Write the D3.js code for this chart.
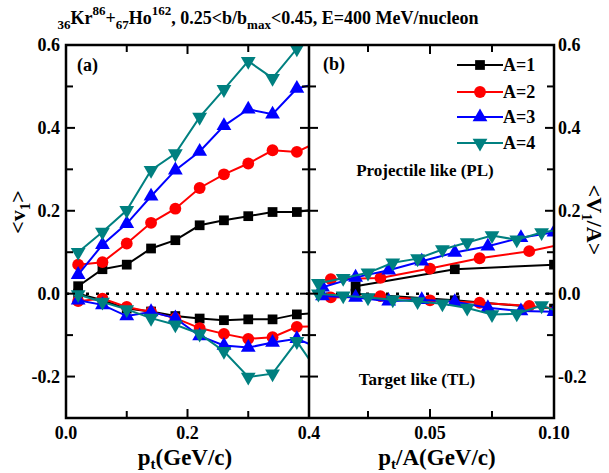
<!DOCTYPE html>
<html lang="en">
  <head>
    <meta charset="UTF-8" />
    <title>v1 vs pt</title>
    <style>
      body { margin: 0; background: #fff; }
      text { font-family: "Liberation Serif", "Times New Roman", serif; font-weight: bold; fill: #000; }
    </style>
  </head>
  <body>
    <svg id="svg" width="609" height="473"></svg>

    <script src="https://d3js.org/d3.v7.min.js"></script>
    <script>
      // transverse momentum points (GeV/c); the last one lies past the frame
      const pt = [0.02, 0.06, 0.10, 0.14, 0.18, 0.22, 0.26, 0.30, 0.34, 0.38, 0.42];
      const massNumbers = [1, 2, 3, 4];
      const colors = ["#000000", "#ff0000", "#0000ff", "#008080"];

      // projectile like <v1>
      const plA1 = [0.018, 0.059, 0.070, 0.109, 0.129, 0.165, 0.177, 0.187, 0.197, 0.197, 0.205];
      const plA2 = [0.070, 0.076, 0.121, 0.171, 0.205, 0.255, 0.288, 0.314, 0.346, 0.342, 0.370];
      const plA3 = [0.046, 0.118, 0.169, 0.235, 0.298, 0.343, 0.405, 0.445, 0.433, 0.495, 0.510];
      const plA4 = [0.100, 0.149, 0.201, 0.298, 0.338, 0.426, 0.493, 0.561, 0.520, 0.591, 0.630];
      // target like <v1>
      const tlA1 = [0.000, -0.016, -0.036, -0.043, -0.054, -0.060, -0.064, -0.062, -0.062, -0.050, -0.046];
      const tlA2 = [-0.018, -0.012, -0.032, -0.044, -0.059, -0.083, -0.097, -0.109, -0.105, -0.080, -0.078];
      const tlA3 = [-0.016, -0.027, -0.054, -0.044, -0.059, -0.102, -0.125, -0.130, -0.118, -0.109, -0.133];
      const tlA4 = [-0.002, -0.020, -0.038, -0.059, -0.075, -0.097, -0.139, -0.201, -0.193, -0.115, -0.200];

      const plSeries = [plA1, plA2, plA3, plA4];
      const tlSeries = [tlA1, tlA2, tlA3, tlA4];

      const yTicks = [-0.2, 0.0, 0.2, 0.4, 0.6];
      const yMinor = [-0.1, 0.1, 0.3, 0.5];
      const xTicksL = [0.0, 0.2, 0.4];
      const xMinorL = [0.1, 0.3];
      const xTicksR = [0.05, 0.10];
      const xMinorR = [0.025, 0.075];

      const svg = d3.select("#svg");
      const pTop = 45, pBottom = 418, pLeft = 66, pMid = 309, pRight = 554;

      const y = d3.scaleLinear().domain([-0.3, 0.6]).range([pBottom, pTop]);
      const xL = d3.scaleLinear().domain([0, 0.4]).range([pLeft, pMid]);
      const xR = d3.scaleLinear().domain([0, 0.1]).range([306, pRight]);

      const defs = svg.append("defs");
      defs.append("clipPath").attr("id", "clipL").append("rect")
        .attr("x", pLeft).attr("y", pTop).attr("width", pMid - pLeft).attr("height", pBottom - pTop);
      defs.append("clipPath").attr("id", "clipR").append("rect")
        .attr("x", pMid).attr("y", pTop).attr("width", pRight - pMid).attr("height", pBottom - pTop);

      // zero line
      svg.append("line")
        .attr("x1", pLeft).attr("x2", pRight).attr("y1", y(0)).attr("y2", y(0))
        .attr("stroke", "#000").attr("stroke-width", 2.5).attr("stroke-dasharray", "3,7");

      const symbols = [d3.symbolSquare, d3.symbolCircle, d3.symbolTriangle, d3.symbolTriangle];
      const symSize = [95, 110, 95, 95];

      function drawMarker(g, i, cx, cy) {
        g.append("path")
          .attr("d", d3.symbol().type(symbols[i]).size(symSize[i])())
          .attr("transform", `translate(${cx},${cy})` + (i === 3 ? " rotate(180)" : ""))
          .attr("fill", colors[i]);
      }

      function drawPanel(clipId, xs, xOf, yOf) {
        const g = svg.append("g").attr("clip-path", `url(#${clipId})`);
        [plSeries, tlSeries].forEach((group) => {
          group.forEach((vals, i) => {
            const pts = vals.map((v, k) => [xOf(pt[k], massNumbers[i]), yOf(v, massNumbers[i])]);
            g.append("path")
              .attr("d", d3.line().x((d) => xs(d[0])).y((d) => y(d[1]))(pts))
              .attr("fill", "none").attr("stroke", colors[i]).attr("stroke-width", 2);
            pts.forEach((d) => drawMarker(g, i, xs(d[0]), y(d[1])));
          });
        });
      }

      // (a) <v1> against pt, (b) <V1/A> against pt/A
      drawPanel("clipL", xL, (p) => p, (v) => v);
      drawPanel("clipR", xR, (p, a) => p / a, (v, a) => v / a);

      // frame
      const ax = svg.append("g").attr("stroke", "#000").attr("stroke-width", 2.5);
      ax.append("rect").attr("x", pLeft).attr("y", pTop).attr("width", pRight - pLeft)
        .attr("height", pBottom - pTop).attr("fill", "none");
      ax.append("line").attr("x1", pMid).attr("x2", pMid).attr("y1", pTop).attr("y2", pBottom);

      const tk = svg.append("g").attr("stroke", "#000").attr("stroke-width", 2);
      function yTick(v, len) {
        const yy = y(v);
        tk.append("line").attr("x1", pLeft).attr("x2", pLeft + len).attr("y1", yy).attr("y2", yy);
        tk.append("line").attr("x1", pMid - len).attr("x2", pMid + len).attr("y1", yy).attr("y2", yy);
        tk.append("line").attr("x1", pRight - len).attr("x2", pRight).attr("y1", yy).attr("y2", yy);
      }
      yTicks.forEach((v) => yTick(v, 9));
      yMinor.forEach((v) => yTick(v, 7));

      function xTick(xx, len) {
        tk.append("line").attr("x1", xx).attr("x2", xx).attr("y1", pBottom).attr("y2", pBottom - len);
        tk.append("line").attr("x1", xx).attr("x2", xx).attr("y1", pTop).attr("y2", pTop + len);
      }
      xTicksL.forEach((v) => xTick(xL(v), 9));
      xMinorL.forEach((v) => xTick(xL(v), 7));
      xTicksR.forEach((v) => xTick(xR(v), 9));
      xMinorR.forEach((v) => xTick(xR(v), 7));

      // tick labels
      const fmtY = (v) => (v < 0 ? "-" : "") + Math.abs(v).toFixed(1);
      yTicks.forEach((v) => {
        svg.append("text").attr("x", 60).attr("y", y(v) + 6).attr("text-anchor", "end")
          .attr("font-size", 18).text(fmtY(v));
        svg.append("text").attr("x", 558).attr("y", y(v) + 6).attr("text-anchor", "start")
          .attr("font-size", 18).text(fmtY(v));
      });
      xTicksL.forEach((v) => {
        svg.append("text").attr("x", xL(v)).attr("y", 439).attr("text-anchor", "middle")
          .attr("font-size", 18).text(v.toFixed(1));
      });
      xTicksR.forEach((v) => {
        svg.append("text").attr("x", xR(v)).attr("y", 439).attr("text-anchor", "middle")
          .attr("font-size", 18).text(v.toFixed(2));
      });

      // axis titles
      const xt1 = svg.append("text").attr("x", 185).attr("y", 465).attr("text-anchor", "middle").attr("font-size", 23);
      xt1.append("tspan").text("p");
      xt1.append("tspan").attr("font-size", 15).attr("dy", 4).text("t");
      xt1.append("tspan").attr("dy", -4).text("(GeV/c)");

      const xt2 = svg.append("text").attr("x", 437).attr("y", 465).attr("text-anchor", "middle").attr("font-size", 23);
      xt2.append("tspan").text("p");
      xt2.append("tspan").attr("font-size", 15).attr("dy", 4).text("t");
      xt2.append("tspan").attr("dy", -4).text("/A(GeV/c)");

      const yt1 = svg.append("text").attr("transform", "translate(25,212) rotate(-90)")
        .attr("text-anchor", "middle").attr("font-size", 22);
      yt1.append("tspan").text("<v");
      yt1.append("tspan").attr("font-size", 15).attr("dy", 5).text("1");
      yt1.append("tspan").attr("dy", -5).text(">");

      const yt2 = svg.append("text").attr("transform", "translate(587,220) rotate(90)")
        .attr("text-anchor", "middle").attr("font-size", 22);
      yt2.append("tspan").text("<V");
      yt2.append("tspan").attr("font-size", 15).attr("dy", 5).text("1");
      yt2.append("tspan").attr("dy", -5).text("/A>");

      // title, centred over the frame
      const tt = svg.append("text").attr("x", 268).attr("y", 24)
        .attr("text-anchor", "middle").attr("font-size", 18);
      const parts = [
        { t: "36", fs: 13, dy: 5 }, { t: "Kr", dy: -5 }, { t: "86", fs: 13, dy: -9 },
        { t: "+", dy: 9 }, { t: "67", fs: 13, dy: 5 }, { t: "Ho", dy: -5 },
        { t: "162", fs: 13, dy: -9 }, { t: ", 0.25<b/b", dy: 9 },
        { t: "max", fs: 13, dy: 5 }, { t: "<0.45, E=400 MeV/nucleon", dy: -5 }
      ];
      parts.forEach((p) => {
        tt.append("tspan").attr("font-size", p.fs || 18).attr("dy", p.dy || 0).text(p.t);
      });

      // panel tags and region notes
      svg.append("text").attr("x", 77).attr("y", 71).attr("font-size", 18).text("(a)");
      svg.append("text").attr("x", 323).attr("y", 70).attr("font-size", 18).text("(b)");
      svg.append("text").attr("x", 425).attr("y", 176).attr("text-anchor", "middle")
        .attr("font-size", 17).text("Projectile like (PL)");
      svg.append("text").attr("x", 417).attr("y", 385).attr("text-anchor", "middle")
        .attr("font-size", 17).text("Target like (TL)");

      // legend
      const legendY = [65, 92, 117, 143];
      massNumbers.forEach((a, i) => {
        const g = svg.append("g");
        g.append("line").attr("x1", 457).attr("x2", 503).attr("y1", legendY[i]).attr("y2", legendY[i])
          .attr("stroke", colors[i]).attr("stroke-width", 2);
        drawMarker(g, i, 480, legendY[i]);
        g.append("text").attr("x", 503).attr("y", legendY[i] + 6).attr("font-size", 18).text("A=" + a);
      });
    </script>
  </body>
</html>
